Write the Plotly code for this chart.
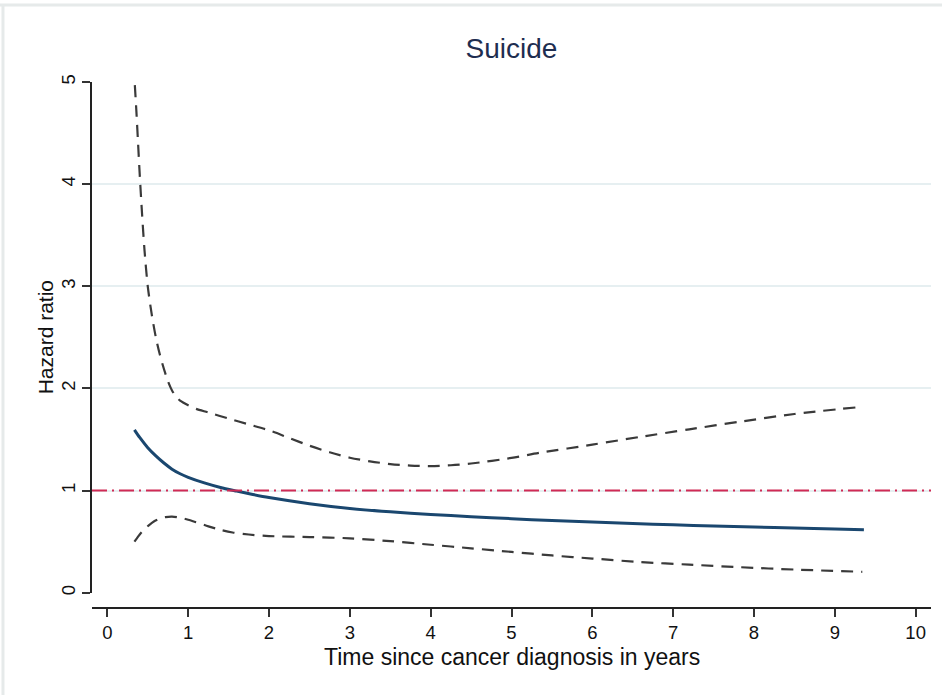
import plotly.graph_objects as go

# ---- data ----
hr_x = [0.335, 0.4, 0.5, 0.6, 0.7, 0.8, 0.9, 1.0, 1.2, 1.4, 1.6, 1.8, 2.0, 2.5, 3.0, 3.5, 4.0, 4.5,
        5.0, 5.5, 6.0, 6.5, 7.0, 7.5, 8.0, 8.5, 9.0, 9.36]
hr_y = [1.595, 1.52, 1.42, 1.34, 1.27, 1.21, 1.165, 1.13, 1.075, 1.03, 0.995, 0.962, 0.932, 0.872, 0.825,
        0.792, 0.766, 0.745, 0.725, 0.707, 0.692, 0.678, 0.665, 0.653, 0.643, 0.633, 0.624, 0.616]

upper_x = [0.34, 0.36, 0.38, 0.40, 0.43, 0.46, 0.50, 0.55, 0.60, 0.65, 0.70, 0.75, 0.80, 0.85, 0.90,
           1.0, 1.1, 1.25, 1.5, 1.75, 2.0, 2.25, 2.5, 2.75, 3.0, 3.25, 3.5, 3.75, 4.0, 4.25, 4.5,
           5.0, 5.35, 6.0, 6.6, 7.2, 7.82, 8.5, 9.27]
upper_y = [4.97, 4.7, 4.4, 4.1, 3.7, 3.35, 3.0, 2.72, 2.5, 2.33, 2.19, 2.07, 1.98, 1.92, 1.88,
           1.835, 1.80, 1.765, 1.705, 1.648, 1.59, 1.515, 1.44, 1.375, 1.322, 1.286, 1.26, 1.245, 1.24, 1.248, 1.265,
           1.32, 1.37, 1.45, 1.527, 1.60, 1.674, 1.75, 1.815]

lower_x = [0.335, 0.38, 0.42, 0.47, 0.52, 0.58, 0.65, 0.72, 0.8, 0.9, 1.0, 1.1, 1.25, 1.4, 1.55, 1.75,
           2.0, 2.5, 3.0, 3.5, 4.0, 4.5, 5.0, 5.5, 6.0, 6.6, 7.2, 7.83, 8.5, 9.34]
lower_y = [0.50, 0.55, 0.59, 0.63, 0.665, 0.70, 0.725, 0.74, 0.745, 0.735, 0.715, 0.69, 0.65, 0.615, 0.59, 0.57,
           0.555, 0.545, 0.533, 0.505, 0.47, 0.435, 0.40, 0.365, 0.335, 0.30, 0.275, 0.25, 0.227, 0.205]

ref_value = 1
x_ticks = [0, 1, 2, 3, 4, 5, 6, 7, 8, 9, 10]
y_ticks = [0, 1, 2, 3, 4, 5]

title_text = "Suicide"
x_title = "Time since cancer diagnosis in years"
y_title = "Hazard ratio"

FONT = "Liberation Sans, Arial, sans-serif"
DASH = "12px,8px"

fig = go.Figure()

for xs, ys in [(upper_x, upper_y), (lower_x, lower_y)]:
    fig.add_trace(go.Scatter(x=xs, y=ys, mode="lines", line_shape="spline",
                             line=dict(color="#3a3a3a", width=2.2, dash=DASH, smoothing=0.8),
                             showlegend=False, hoverinfo="skip"))
fig.add_trace(go.Scatter(x=hr_x, y=hr_y, mode="lines", line_shape="spline",
                         line=dict(color="#1a476f", width=3, smoothing=0.8), showlegend=False,
                         hoverinfo="skip"))

# reference line at HR = 1
fig.add_hline(y=ref_value, line=dict(color="#d02a55", width=2, dash="15px,5px,2px,5px"))

# faint outer frame (top and left)
fig.add_shape(type="line", xref="paper", yref="paper", x0=-0.11, x1=1.02, y0=1.1464, y1=1.1464,
              line=dict(color="#e6eaea", width=3), layer="below")
fig.add_shape(type="line", xref="paper", yref="paper", x0=-0.1061, x1=-0.1061, y0=-0.17, y1=1.1464,
              line=dict(color="#e6eaea", width=3), layer="below")

fig.update_layout(
    width=942, height=695,
    margin=dict(l=92, r=11, t=82, b=87),
    paper_bgcolor="white", plot_bgcolor="white",
    font=dict(family=FONT, color="#111111"),
    title=dict(text=title_text, x=0.5, xref="paper", xanchor="center",
               y=1 - 48 / 695, yref="container", yanchor="middle",
               font=dict(size=28, color="#1e2d50", family=FONT)),
    xaxis=dict(range=[-0.19, 10.19], tickvals=x_ticks, ticktext=[str(v) for v in x_ticks],
               showgrid=False, zeroline=False, showline=True, linecolor="#222222", linewidth=1.5,
               ticks="outside", ticklen=8, tickwidth=1.5, tickcolor="#333333",
               tickfont=dict(size=18.5, color="#111111"),
               anchor="free", position=0),
    yaxis=dict(range=[0, 5], domain=[0.029, 1], tickvals=y_ticks, ticktext=[str(v) for v in y_ticks],
               showgrid=True, gridcolor="#e6eff1", gridwidth=1.5, zeroline=False,
               showline=True, linecolor="#222222", linewidth=1.5,
               ticks="outside", ticklen=8, tickwidth=1.5, tickcolor="#333333",
               tickangle=-90, tickfont=dict(size=18.5, color="#111111")),
    annotations=[
        dict(text=x_title, xref="paper", yref="paper", x=0.5, y=-0.0938,
             xanchor="center", yanchor="middle", showarrow=False,
             font=dict(size=23, color="#111111", family=FONT)),
        dict(text=y_title, xref="paper", yref="paper", x=(45 - 92) / 839, y=(0.029 + 1) / 2,
             xanchor="center", yanchor="middle", textangle=-90, showarrow=False,
             font=dict(size=21, color="#111111", family=FONT)),
    ],
)

fig.write_html("out.html", config={"displayModeBar": False},
               post_script="document.body.style.margin='0';")
